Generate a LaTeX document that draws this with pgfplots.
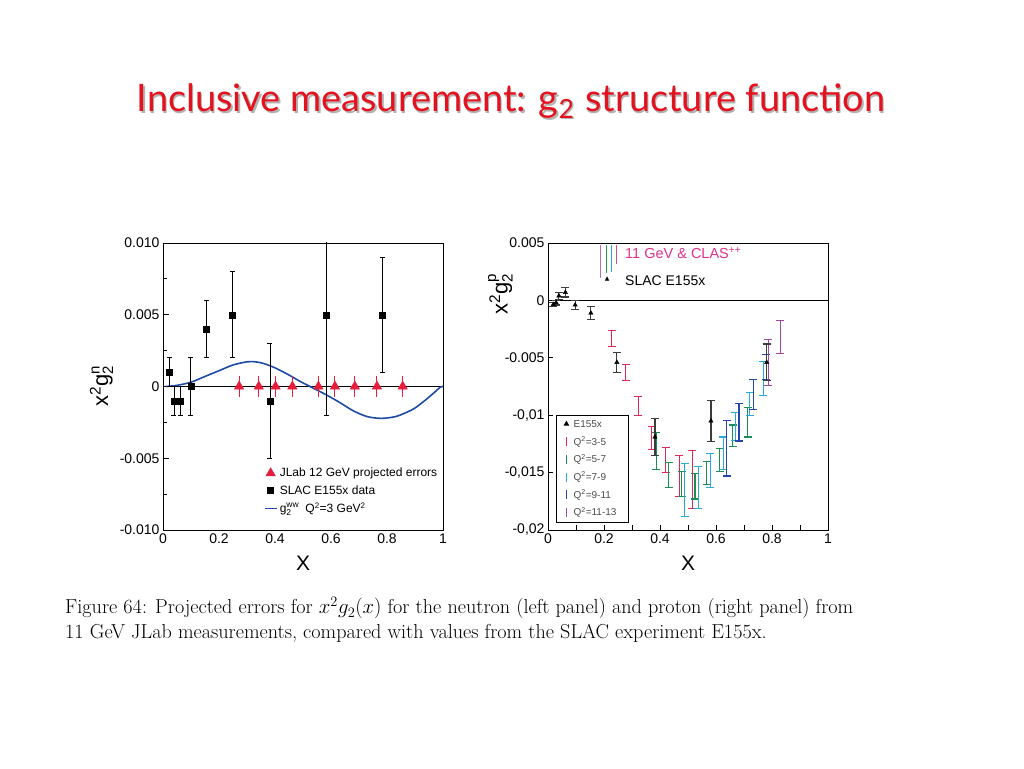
\documentclass[border=0pt]{standalone}
\usepackage{fontspec}
\usepackage{pgfplots}
\pgfplotsset{compat=1.18}
\newfontfamily\arial{Liberation Sans}
\newfontfamily\titlefont{Lato}
\newfontfamily\dejavu{DejaVu Sans}
\definecolor{ttl}{RGB}{228,18,30}
\definecolor{jlab}{RGB}{230,30,60}
\definecolor{ww}{RGB}{30,75,165}
\definecolor{qa}{RGB}{222,40,85}
\definecolor{qb}{RGB}{30,140,85}
\definecolor{qc}{RGB}{40,170,220}
\definecolor{qd}{RGB}{40,70,170}
\definecolor{qe}{RGB}{160,70,160}
\definecolor{ebar}{RGB}{60,60,60}
\definecolor{clas}{RGB}{225,50,140}
\definecolor{la}{RGB}{190,110,170}
\definecolor{lb}{RGB}{40,150,90}
\definecolor{lc}{RGB}{40,160,220}
\definecolor{ld}{RGB}{220,80,120}
\pgfplotsset{qbar/.style={only marks, mark=text, text mark={}, forget plot,
  error bars/.cd, y dir=both, y explicit,
  error mark options={rotate=90, mark size=4pt, line width=1.1pt, #1},
  error bar style={line width=1.1pt, #1}}}
\begin{document}
\begin{tikzpicture}
\path[use as bounding box, fill=white] (0pt,0pt) rectangle (1024pt,768pt);
% title
\node[anchor=base, inner sep=0pt, text=black!30] at (512.5pt,654.5pt) {\resizebox{748pt}{!}{\titlefont Inclusive measurement: g\textsubscript{2} structure function}};
\node[anchor=base, inner sep=0pt, text=ttl] at (511pt,656pt) {\resizebox{748pt}{!}{\titlefont Inclusive measurement: g\textsubscript{2} structure function}};
% caption
\node[anchor=base west, inner sep=0pt] at (65pt,154pt) {\fontsize{20.2}{24}\selectfont Figure 64: Projected errors for $x^2g_2(x)$ for the neutron (left panel) and proton (right panel) from};
\node[anchor=base west, inner sep=0pt] at (65pt,130pt) {\fontsize{20.2}{24}\selectfont 11 GeV JLab measurements, compared with values from the SLAC experiment E155x.};

% ---------------- left panel
\begin{axis}[
  at={(163pt,238pt)}, anchor=south west,
  scale only axis, width=280pt, height=287pt,
  xmin=0, xmax=1, ymin=-0.01, ymax=0.01,
  axis line style={line width=0.9pt},
  scaled x ticks=false, scaled y ticks=false,
  xtick={0,0.2,0.4,0.6,0.8,1}, xticklabels={0,0.2,0.4,0.6,0.8,1},
  ytick={-0.01,-0.005,0,0.005,0.01}, yticklabels={-0.010,-0.005,0,0.005,0.010},
  minor ytick={-0.0075,-0.0025,0.0025,0.0075},
  tick pos=left, tick align=inside,
  xtick style={draw=none}, minor xtick={},
  ytick style={line width=0.8pt, black},
  major tick length=6pt, minor tick length=4pt,
  tick label style={font=\arial\fontsize{14}{14}\selectfont},
  xlabel={\arial X}, xlabel style={font=\fontsize{21}{21}\selectfont, at={(axis description cs:0.5,-0.115)}, anchor=center},
  ylabel={\arial x\textsuperscript{2}g\raisebox{-5pt}{\fontsize{15}{15}\selectfont\shortstack[l]{n\\2}}},
  ylabel style={font=\fontsize{22}{22}\selectfont, at={(axis description cs:-0.22,0.5)}, anchor=center},
  legend style={at={(axis cs:0.36,-0.0055)}, anchor=north west, draw=none, fill=none,
    font=\arial\fontsize{12}{12}\selectfont, inner sep=0pt, row sep=2pt,
    nodes={inner sep=2.5pt}},
  legend cell align=left,
]
\addlegendimage{only marks, mark=triangle*, mark size=5.5pt, color=jlab}
\addlegendentry{JLab 12 GeV projected errors}
\addlegendimage{only marks, mark=square*, mark size=3pt, black}
\addlegendentry{SLAC E155x data}
\addlegendimage{legend image code/.code={\draw[ww, line width=1.3pt] (0.3cm-6pt,0cm) -- (0.3cm+6pt,0cm);}}
\addlegendentry{g\raisebox{-3pt}{\fontsize{8.5}{8.5}\selectfont\shortstack[l]{ww\\2}}\ \ Q\textsuperscript{2}=3 GeV\textsuperscript{2}}

\draw[black, line width=0.8pt] (axis cs:0,0) -- (axis cs:1,0);

\addplot[ww, line width=1.6pt, smooth, forget plot] coordinates {
(0.01,0) (0.05,0.00008) (0.10,0.0003) (0.15,0.0007) (0.20,0.0011) (0.25,0.0015)
(0.30,0.00172) (0.33,0.00172) (0.36,0.0016) (0.40,0.0013) (0.45,0.0008) (0.49,0.00035)
(0.53,-0.00005) (0.58,-0.00055) (0.63,-0.0011) (0.68,-0.0017) (0.73,-0.0021) (0.78,-0.00222)
(0.83,-0.0021) (0.87,-0.0018) (0.90,-0.0015) (0.94,-0.0009) (0.97,-0.0004) (0.99,-0.00005) (1.00,0)};

\addplot[black, only marks, mark=square*, mark size=3pt, forget plot,
  error bars/.cd, y dir=both, y explicit,
  error mark options={rotate=90, mark size=2.5pt, line width=0.8pt, black},
  error bar style={line width=0.8pt, black}]
  table[row sep=\\, x index=0, y index=1, y error index=2] {
x y e \\
0.022 0.001 0.001 \\
0.039 -0.001 0.001 \\
0.061 -0.001 0.001 \\
0.099 0.000 0.002 \\
0.156 0.004 0.002 \\
0.248 0.005 0.003 \\
0.382 -0.001 0.004 \\
0.584 0.005 0.007 \\
0.784 0.005 0.004 \\
};

\addplot[jlab, only marks, mark=triangle*, mark size=5.5pt, forget plot,
  error bars/.cd, y dir=both, y explicit, error mark=none,
  error bar style={line width=1pt, jlab}]
  table[row sep=\\, x index=0, y index=1, y error index=2] {
x y e \\
0.272 0 0.0007 \\
0.342 0 0.0007 \\
0.402 0 0.0007 \\
0.462 0 0.0007 \\
0.555 0 0.0007 \\
0.614 0 0.0007 \\
0.685 0 0.0007 \\
0.764 0 0.0007 \\
0.856 0 0.0007 \\
};
\end{axis}

% ---------------- right panel
\begin{axis}[
  at={(548pt,238pt)}, anchor=south west,
  scale only axis, width=280pt, height=287pt,
  xmin=0, xmax=1, ymin=-0.02, ymax=0.005,
  axis line style={line width=0.9pt},
  scaled x ticks=false, scaled y ticks=false,
  xtick={0,0.2,0.4,0.6,0.8,1}, xticklabels={0,0.2,0.4,0.6,0.8,1},
  minor xtick={0.1,0.3,0.5,0.7,0.9},
  ytick={-0.02,-0.015,-0.01,-0.005,0,0.005}, yticklabels={{-0,02},{-0,015},{-0,01},-0.005,0,0.005},
  tick pos=left, tick align=inside,
  tick style={line width=0.8pt, black},
  major tick length=5pt, minor tick length=5pt,
  tick label style={font=\arial\fontsize{14}{14}\selectfont},
  xlabel={\arial X}, xlabel style={font=\fontsize{21}{21}\selectfont, at={(axis description cs:0.5,-0.115)}, anchor=center},
  ylabel={\arial x\textsuperscript{2}g\raisebox{-5pt}{\fontsize{15}{15}\selectfont\shortstack[l]{p\\2}}},
  ylabel style={font=\fontsize{22}{22}\selectfont, at={(axis description cs:-0.17,0.822)}, anchor=center},
  legend style={at={(axis cs:0.0286,-0.01)}, anchor=north west, draw=black, line width=0.8pt, fill=white,
    font=\arial\fontsize{10}{10}\selectfont, text=black!70, inner xsep=1pt, inner ysep=3pt, row sep=3.2pt,
    nodes={inner sep=2.2pt}},
  legend cell align=left,
]
\addlegendimage{legend image code/.code={\path[draw=none, fill=none] (0pt,-4pt) rectangle (14pt,4pt); \path[draw=none] plot[mark=triangle*, mark size=2.5pt, mark options={draw=black, fill=black}] coordinates {(9pt,1pt)};}}
\addlegendentry{E155x}
\addlegendimage{legend image code/.code={\path[draw=none, fill=none] (0pt,-4pt) rectangle (14pt,4pt); \draw[line width=1.4pt, color=qa] (9pt,-4.5pt) -- (9pt,4.5pt);}}
\addlegendentry{Q\textsuperscript{2}=3-5}
\addlegendimage{legend image code/.code={\path[draw=none, fill=none] (0pt,-4pt) rectangle (14pt,4pt); \draw[line width=1.4pt, color=qb] (9pt,-4.5pt) -- (9pt,4.5pt);}}
\addlegendentry{Q\textsuperscript{2}=5-7}
\addlegendimage{legend image code/.code={\path[draw=none, fill=none] (0pt,-4pt) rectangle (14pt,4pt); \draw[line width=1.4pt, color=qc] (9pt,-4.5pt) -- (9pt,4.5pt);}}
\addlegendentry{Q\textsuperscript{2}=7-9}
\addlegendimage{legend image code/.code={\path[draw=none, fill=none] (0pt,-4pt) rectangle (14pt,4pt); \draw[line width=1.4pt, color=qd] (9pt,-4.5pt) -- (9pt,4.5pt);}}
\addlegendentry{Q\textsuperscript{2}=9-11}
\addlegendimage{legend image code/.code={\path[draw=none, fill=none] (0pt,-4pt) rectangle (14pt,4pt); \draw[line width=1.4pt, color=qe] (9pt,-4.5pt) -- (9pt,4.5pt);}}
\addlegendentry{Q\textsuperscript{2}=11-13\kern 9pt}

\draw[black, line width=0.8pt] (axis cs:0,0) -- (axis cs:1,0);

\addplot[qbar=qa] table[row sep=\\, x index=0, y index=1, y error index=2] {
x y e \\
0.227 -0.0033 0.0007 \\
0.2775 -0.0063 0.0007 \\
0.3225 -0.0092 0.0008 \\
0.370 -0.0120 0.0010 \\
0.421 -0.0139 0.0011 \\
0.468 -0.0153 0.0018 \\
0.515 -0.0156 0.0025 \\
};
\addplot[qbar=qb] table[row sep=\\, x index=0, y index=1, y error index=2] {
x y e \\
0.386 -0.0131 0.0016 \\
0.431 -0.0152 0.0011 \\
0.4775 -0.0160 0.0011 \\
0.525 -0.0162 0.0011 \\
0.567 -0.0150 0.0010 \\
0.6125 -0.0139 0.0010 \\
0.660 -0.0118 0.00095 \\
0.713 -0.0106 0.0013 \\
};
\addplot[qbar=qc] table[row sep=\\, x index=0, y index=1, y error index=2] {
x y e \\
0.489 -0.0165 0.0023 \\
0.537 -0.0163 0.0018 \\
0.579 -0.0148 0.0015 \\
0.626 -0.0133 0.0014 \\
0.668 -0.0110 0.0012 \\
0.721 -0.0090 0.0010 \\
0.769 -0.0068 0.0015 \\
};
\addplot[qbar=qd] table[row sep=\\, x index=0, y index=1, y error index=2] {
x y e \\
0.638 -0.0129 0.0024 \\
0.682 -0.0106 0.00165 \\
0.733 -0.0082 0.0013 \\
0.779 -0.0058 0.0011 \\
};
\addplot[qbar=qe] table[row sep=\\, x index=0, y index=1, y error index=2] {
x y e \\
0.787 -0.0054 0.0020 \\
0.829 -0.0032 0.00145 \\
};

\addplot[black, only marks, mark=triangle*, mark size=2.5pt, forget plot,
  error bars/.cd, y dir=both, y explicit,
  error mark options={rotate=90, mark size=4pt, line width=1.1pt, ebar},
  error bar style={line width=1.1pt, ebar}]
  table[row sep=\\, x index=0, y index=1, y error index=2] {
x y e \\
0.019 -0.00035 0.0002 \\
0.029 -0.0002 0.0002 \\
0.039 0.0004 0.0003 \\
0.062 0.0007 0.0004 \\
0.097 -0.0004 0.0004 \\
0.153 -0.0011 0.0006 \\
0.246 -0.0054 0.0009 \\
0.382 -0.0119 0.0016 \\
0.582 -0.0105 0.0018 \\
0.781 -0.0054 0.0016 \\
};

% top legend annotation
\draw[la, line width=1pt] (axis cs:0.189,0.00479) -- (axis cs:0.189,0.00194);
\draw[lb, line width=1pt] (axis cs:0.2096,0.00479) -- (axis cs:0.2096,0.00238);
\draw[lc, line width=1pt] (axis cs:0.2275,0.00479) -- (axis cs:0.2275,0.00247);
\draw[ld, line width=1pt] (axis cs:0.2454,0.00479) -- (axis cs:0.2454,0.0032);
\node[anchor=base west, inner sep=0pt, text=clas, font=\arial\fontsize{14.5}{14.5}\selectfont] at (axis cs:0.275,0.00366) {11 GeV \& CLAS\textsuperscript{++}};
\node[anchor=base west, inner sep=0pt, font=\arial\fontsize{14}{14}\selectfont] at (axis cs:0.275,0.00132) {SLAC E155x};
\node[inner sep=0pt, font=\dejavu\fontsize{6}{6}\selectfont] at (axis cs:0.211,0.00183) {▲};
\end{axis}
\end{tikzpicture}
\end{document}
